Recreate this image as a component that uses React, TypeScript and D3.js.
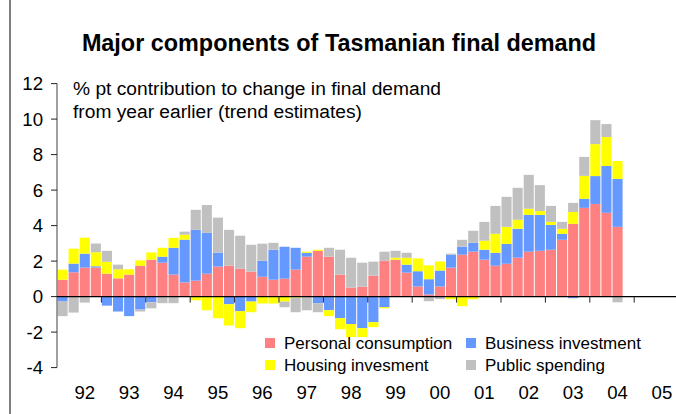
import { useMemo } from "react";
import * as d3 from "d3";

const WIDTH = 676;
const HEIGHT = 414;
const FONT = "'Liberation Sans', Arial, sans-serif";

// quarterly contributions, Sep-91 .. Jun-04 (% pt)
const consumption = [
  0.95, 1.37, 1.63, 1.64, 1.29, 1.03, 1.24, 1.74, 2.08, 1.91, 1.24, 0.8, 0.9,
  1.29, 1.69, 1.74, 1.57, 1.4, 1.12, 0.95, 1.01, 1.52, 2.25, 2.58, 2.25, 1.24,
  0.51, 0.56, 1.18, 2.02, 2.08, 1.35, 0.57, 0.12, 0.57, 1.63, 2.36, 2.53, 2.08,
  1.74, 1.85, 2.19, 2.53, 2.58, 2.64, 3.2, 4.1, 5.0, 5.22, 4.72, 3.93,
];
const business = [
  -0.28, 0.49, 0.79, 0.07, -0.51, -0.84, -1.1, -0.73, -0.32, 0.34, 1.51, 2.41,
  2.86, 2.3, 0.79, -0.43, -0.82, -0.28, 0.9, 1.69, 1.8, 1.23, 0.22, -0.37,
  -0.77, -1.22, -1.55, -1.78, -1.44, -0.6, 0, 0.45, 0.86, 0.86, 0.9, 0.73,
  0.45, 0.5, 0.56, 0.73, 1.12, 1.63, 2.08, 2.02, 1.4, 0.34, -0.09, 0.51, 1.57,
  2.64, 2.7,
];
const housing = [
  0.57, 0.84, 0.9, 0.79, 0.67, 0.51, 0.3, 0.3, 0.41, 0.5, 0.56, 0.28, -0.21,
  -0.77, -1.22, -1.2, -0.96, -0.6, -0.39, -0.39, -0.28, -0.06, 0.06, 0.06,
  -0.33, -0.62, -0.73, -0.5, -0.28, -0.06, 0.11, 0.39, 0.72, 0.78, 0.51, -0.15,
  -0.54, -0.15, 0.51, 1.07, 0.96, 0.51, 0.34, 0.22, 0.17, 0.28, 0.67, 1.29,
  1.8, 1.63, 1.01,
];
const publicSpending = [
  -0.82, -0.9, -0.34, 0.49, 0.62, 0.26, 0, -0.11, -0.34, -0.37, -0.37, 0.17,
  1.13, 1.57, 1.97, 2.02, 1.86, 1.52, 0.96, 0.39, -0.32, -0.82, -0.77, -0.51,
  0.5, 1.4, 1.68, 1.35, 0.79, 0.51, 0.39, 0.28, 0, -0.26, -0.14, 0.06, 0.39,
  0.68, 1.06, 1.57, 1.69, 1.8, 1.91, 1.46, 0.9, 0.39, 0.51, 1.07, 1.35, 0.73,
  -0.32,
];

const yearLabels = ["92", "93", "94", "95", "96", "97", "98", "99", "00", "01", "02", "03", "04", "05"];
const yTicks = [-4, -2, 0, 2, 4, 6, 8, 10, 12];

const SERIES = [
  { key: "consumption", label: "Personal consumption", color: "#FF8080" },
  { key: "business", label: "Business investment", color: "#6699FF" },
  { key: "housing", label: "Housing invesment", color: "#FFFF00" },
  { key: "public", label: "Public spending", color: "#C0C0C0" },
];

const N_CATEGORIES = 56; // axis runs on past the last quarter
const X0 = 57;
const STEP = 11.1;

export default function App() {
  const rows = useMemo(
    () =>
      consumption.map((c, i) => ({
        i,
        consumption: c,
        business: business[i],
        housing: housing[i],
        public: publicSpending[i],
      })),
    []
  );

  const stacked = useMemo(
    () =>
      d3
        .stack<any>()
        .keys(SERIES.map((s) => s.key))
        .offset(d3.stackOffsetDiverging)(rows),
    [rows]
  );

  const xScale = d3
    .scaleBand<number>()
    .domain(d3.range(N_CATEGORIES))
    .range([X0, X0 + N_CATEGORIES * STEP])
    .paddingInner(0.09)
    .paddingOuter(0.045);

  const yScale = d3.scaleLinear().domain([-4, 12]).range([367.6, 83.6]);
  const y0 = yScale(0);
  const step = xScale.step();

  return (
    <svg
      width={WIDTH}
      height={HEIGHT}
      style={{ position: "absolute", left: 0, top: 0, background: "#fff" }}
      fontFamily={FONT}
    >
      <rect width={WIDTH} height={HEIGHT} fill="#fff" />
      <line x1={10} x2={10} y1={0} y2={HEIGHT} stroke="#555" strokeWidth={1.5} />

      <text x={339} y={51} textAnchor="middle" fontSize={23.4} fontWeight="bold">
        Major components of Tasmanian final demand
      </text>
      <text x={73} y={95} fontSize={19.2}>
        % pt contribution to change in final demand
      </text>
      <text x={73} y={118} fontSize={19.2}>
        from year earlier (trend estimates)
      </text>

      {/* bars */}
      {stacked.map((layer, si) => (
        <g key={layer.key} fill={SERIES[si].color}>
          {layer.map((d, i) => {
            const top = yScale(Math.max(d[0], d[1]));
            const bottom = yScale(Math.min(d[0], d[1]));
            if (bottom - top <= 0) return null;
            return (
              <rect
                key={i}
                x={xScale(i)}
                y={top}
                width={xScale.bandwidth()}
                height={bottom - top}
              />
            );
          })}
        </g>
      ))}

      {/* y axis */}
      <line x1={X0} x2={X0} y1={yScale(12)} y2={yScale(-4)} stroke="#777" strokeWidth={1.4} />
      {yTicks.map((t) => (
        <g key={t}>
          <line x1={X0 - 6} x2={X0} y1={yScale(t)} y2={yScale(t)} stroke="#222" />
          <text x={43} y={yScale(t) + 6.6} textAnchor="end" fontSize={18.6}>
            {t}
          </text>
        </g>
      ))}

      {/* x axis */}
      <line x1={X0} x2={WIDTH} y1={y0} y2={y0} stroke="#000" strokeWidth={1.4} />
      {d3.range(1, N_CATEGORIES / 4).map((k) => (
        <line
          key={k}
          x1={X0 + 4 * k * step}
          x2={X0 + 4 * k * step}
          y1={y0}
          y2={y0 + 6}
          stroke="#222"
        />
      ))}
      {yearLabels.map((lab, k) => (
        <text
          key={lab}
          x={X0 + (4 * k + 2.5) * step}
          y={399}
          textAnchor="middle"
          fontSize={18.6}
        >
          {lab}
        </text>
      ))}

      {/* legend */}
      {SERIES.map((s, i) => {
        const col = i % 2;
        const row = Math.floor(i / 2);
        const lx = col === 0 ? 265 : 466;
        const ly = row === 0 ? 338 : 360;
        return (
          <g key={s.key}>
            <rect x={lx} y={ly} width={10} height={10} fill={s.color} />
            <text x={lx + 19} y={ly + 11} fontSize={17}>
              {s.label}
            </text>
          </g>
        );
      })}
    </svg>
  );
}
